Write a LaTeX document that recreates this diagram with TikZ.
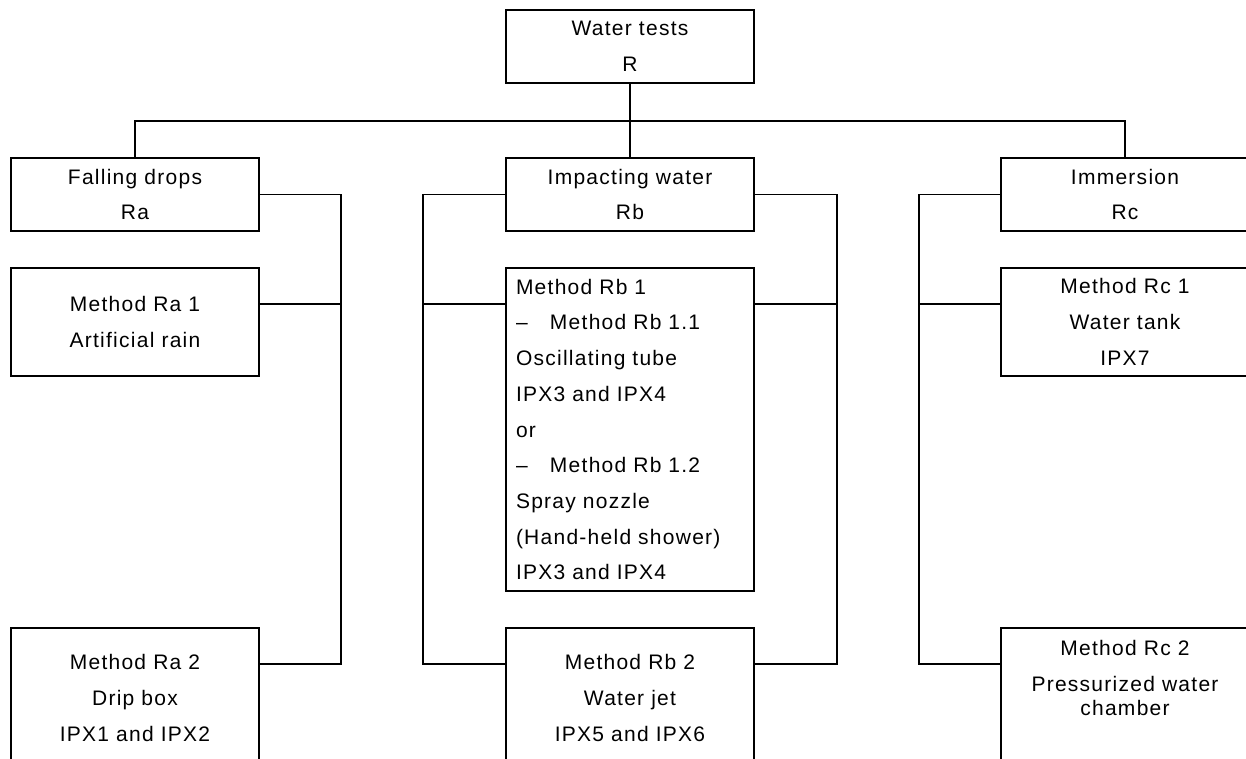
\documentclass[tikz,border=0pt]{standalone}
\usepackage{fontspec}
\setmainfont[LetterSpace=6]{Liberation Sans}
\begin{document}
\begin{tikzpicture}[x=1pt,y=-1pt,
  box/.style={draw, line width=1.4pt, minimum width=248pt, inner sep=0pt, align=center,
    font=\fontsize{21}{35.7}\selectfont},
  plain/.style={inner sep=0pt, align=center, font=\fontsize{21}{35.7}\selectfont},
  link/.style={line width=1.4pt}]
\useasboundingbox (0,0) rectangle (1246,758);
\clip (0,0) rectangle (1246,758);
% level 0
\node[box, minimum height=73pt] (R) at (630,46.5) {Water tests\\R};
% level 1
\node[box, minimum height=73pt] (Ra) at (135,194.5) {Falling drops\\Ra};
\node[box, minimum height=73pt] (Rb) at (630,194.5) {Impacting water\\Rb};
\node[box, minimum height=73pt] (Rc) at (1125,194.5) {Immersion\\Rc};
% level 2
\node[box, minimum height=108pt] (Ra1) at (135,322) {Method Ra 1\\Artificial rain};
\node[box, minimum height=323pt, text width=228pt, inner xsep=10pt, align=left] (Rb1) at (630,429.5)
  {Method Rb 1\\\makebox[34pt][l]{–}Method Rb 1.1\\Oscillating tube\\IPX3 and IPX4\\or\\\makebox[34pt][l]{–}Method Rb 1.2\\Spray nozzle\\(Hand-held shower)\\IPX3 and IPX4};
\node[box, minimum height=108pt] (Rc1) at (1125,322) {Method Rc 1\\Water tank\\IPX7};
% level 3
\node[box, minimum height=140pt] (Ra2) at (135,698) {Method Ra 2\\Drip box\\IPX1 and IPX2};
\node[box, minimum height=140pt] (Rb2) at (630,698) {Method Rb 2\\Water jet\\IPX5 and IPX6};
\node[box, minimum height=140pt] (Rc2) at (1125,698) {};
\node[plain, anchor=north] (Rc2t) at (1125,640) {Method Rc 2\\Pressurized water\\[-11.7pt]chamber};
% helper coordinates
\coordinate (bus) at (630,121);
\coordinate (xA) at (341,0);
\coordinate (xBl) at (423,0);
\coordinate (xBr) at (837,0);
\coordinate (xC) at (919,0);
\coordinate (y1) at (0,304);
\coordinate (y2) at (0,664);
% connectors
\draw[link] (R.south) -- (Rb.north);
\draw[link] (Ra.north) -- (Ra.north |- bus) -- (Rc.north |- bus) -- (Rc.north);
\draw[link] (Ra.east) -| (xA |- y2) -- (Ra2.east |- y2);
\draw[link] (Ra1.east |- y1) -- (xA |- y1);
\draw[link] (Rb.west) -| (xBl |- y2) -- (Rb2.west |- y2);
\draw[link] (Rb1.west |- y1) -- (xBl |- y1);
\draw[link] (Rb.east) -| (xBr |- y2) -- (Rb2.east |- y2);
\draw[link] (Rb1.east |- y1) -- (xBr |- y1);
\draw[link] (Rc.west) -| (xC |- y2) -- (Rc2.west |- y2);
\draw[link] (Rc1.west |- y1) -- (xC |- y1);
\end{tikzpicture}
\end{document}
